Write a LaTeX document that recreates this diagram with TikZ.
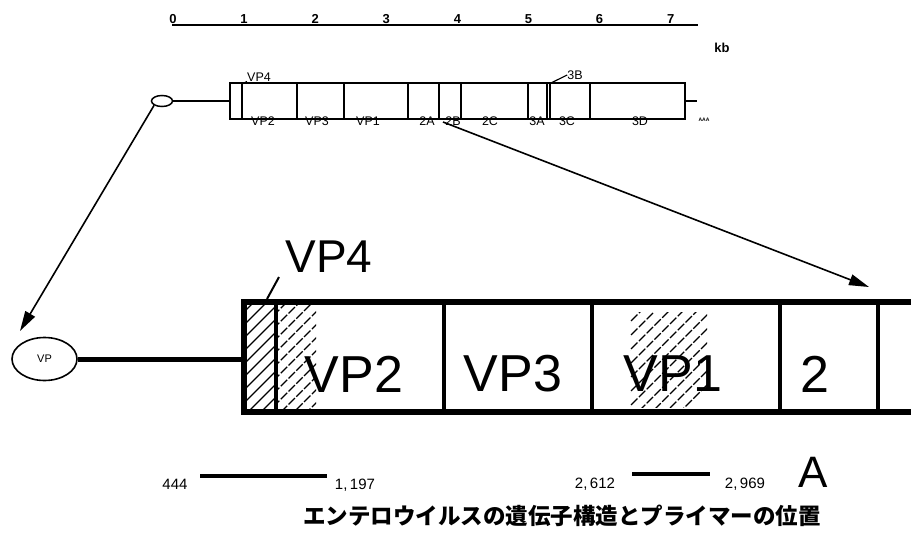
\documentclass[tikz,border=0pt]{standalone}
\usepackage{fontspec}
\setmainfont{Liberation Sans}
\newfontfamily\cjk{Noto Sans CJK JP}
\usetikzlibrary{arrows.meta,shapes.geometric}
\tikzset{
  thinline/.style={line width=1.5pt},
  segline/.style={line width=1.2pt},
  bigframe/.style={line width=6pt},
  bigdiv/.style={line width=4pt},
  hatchline/.style={line width=1.1pt},
  leader/.style={line width=2pt},
  ptr/.style={line width=1.6pt,-{Triangle[length=20pt,width=11pt]}},
  scalenum/.style={inner sep=0pt,font=\fontsize{13}{13}\selectfont\bfseries},
  smalllbl/.style={inner sep=0pt,font=\fontsize{12.5}{12.5}\selectfont},
  biglbl/.style={inner sep=0pt,font=\fontsize{52}{52}\selectfont},
  posnum/.style={inner sep=0pt,font=\fontsize{15}{15}\selectfont},
  primer/.style={line width=4pt},
}
\begin{document}
\begin{tikzpicture}[x=1pt,y=-1pt]
\useasboundingbox (0,0) rectangle (911,544);

% ---- kb scale ----
\coordinate (sc0) at (172,25);
\coordinate (sc1) at (698,25);
\draw[line width=1.8pt] (sc0) -- (sc1);
\foreach \i in {0,...,7} \node[scalenum,anchor=south] (t\i) at (173+71.1*\i,24) {\i};
\node[scalenum] (kb) at (722,48) {kb};

% ---- small genome ----
\node[draw,thinline,ellipse,minimum width=21pt,minimum height=11pt,inner sep=0pt] (soval) at (162,101) {};
\node[draw,thinline,rectangle,minimum width=455pt,minimum height=36pt,inner sep=0pt] (sbox) at (457.5,101) {};
\draw[thinline] (soval.east) -- (sbox.west |- soval.east);
\coordinate (tail) at (697,101);
\draw[thinline] (sbox.east |- tail) -- (tail);
\node[inner sep=0pt,font=\fontsize{5}{5}\selectfont\bfseries] (aaa) at (704,120) {AAA};
\foreach \x in {242,297,344,408,439,461,528,547,550,590}
  \draw[segline] (\x,83) -- (\x,119);
\foreach \x/\t in {263/VP2,317/VP3,368/VP1,427/2A,453/2B,490/2C,537/3A,567/3C,640/3D}
  \node[smalllbl] at (\x,121) {\t};
\node[smalllbl] (svp4) at (259,77) {VP4};
\draw[segline] (242,84) -- (svp4.south west);
\node[smalllbl] (s3b) at (575,75) {3B};
\draw[segline] (s3b.west) -- (549,84);

% ---- big genome ----
\node[draw,line width=1.6pt,ellipse,minimum width=65pt,minimum height=43pt,inner sep=0pt,
      font=\fontsize{11}{11}\selectfont] (boval) at (44.5,359) {VP};
% hatching
\begin{scope}
  \clip (244,302) rectangle (276,412);
  \foreach \k in {-60,-47,...,140} \draw[hatchline] (240,412-\k) -- ++(45,-45);
\end{scope}
\begin{scope}
  \clip (277,305) rectangle (316,410);
  \foreach \k in {-60,-47,...,140} \draw[hatchline,dash pattern=on 9pt off 2pt] (273,412-\k) -- ++(50,-50);
\end{scope}
\begin{scope}
  \clip (630,312) rectangle (707,407);
  \foreach \k in {-80,-66,...,180} \draw[hatchline,dash pattern=on 9pt off 2pt] (600,412-\k) -- ++(110,-110);
\end{scope}
% frame
\coordinate (bl) at (244,302);
\draw[bigframe] (920,302) -- (bl) -- (244,412) -- (920,412);
\foreach \x in {276,444,592,780,878} \draw[bigdiv] (\x,302) -- (\x,412);
\draw[line width=5pt] (boval.east) -- (bl |- boval.east);
\node[biglbl] (vp2) at (354,374) {VP2};
\node[biglbl] (vp3) at (513,374) {VP3};
\node[biglbl] (vp1) at (673,374) {VP1};
\node[biglbl] (n2) at (815,374) {2};
\node[inner sep=0pt,font=\fontsize{46}{46}\selectfont] (bvp4) at (329,257) {VP4};
\coordinate (vp4a) at (279,277);
\coordinate (vp4b) at (267,299);
\draw[leader] (vp4a) -- (vp4b);

% ---- arrows ----
\coordinate (ltip) at (20,331);
\coordinate (rtip) at (869,287);
\coordinate (rstart) at (443,122);
\draw[ptr] (soval.south west) -- (ltip);
\draw[ptr] (rstart) -- (rtip);

% ---- primers ----
\node[posnum] (p1) at (175,484) {444};
\node[posnum] (p2) at (355,485) {1,\,197};
\node[posnum] (p3) at (595,484) {2,\,612};
\node[posnum] (p4) at (745,484) {2,\,969};
\draw[primer] (200,476) -- (327,476);
\draw[primer] (632,474) -- (710,474);
\node[inner sep=0pt,font=\fontsize{44}{44}\selectfont] (lblA) at (813,472) {A};

\node[inner sep=0pt,font=\cjk\bfseries\fontsize{22.5}{22.5}\selectfont] (cap) at (562,516) {エンテロウイルスの遺伝子構造とプライマーの位置};
\end{tikzpicture}
\end{document}
